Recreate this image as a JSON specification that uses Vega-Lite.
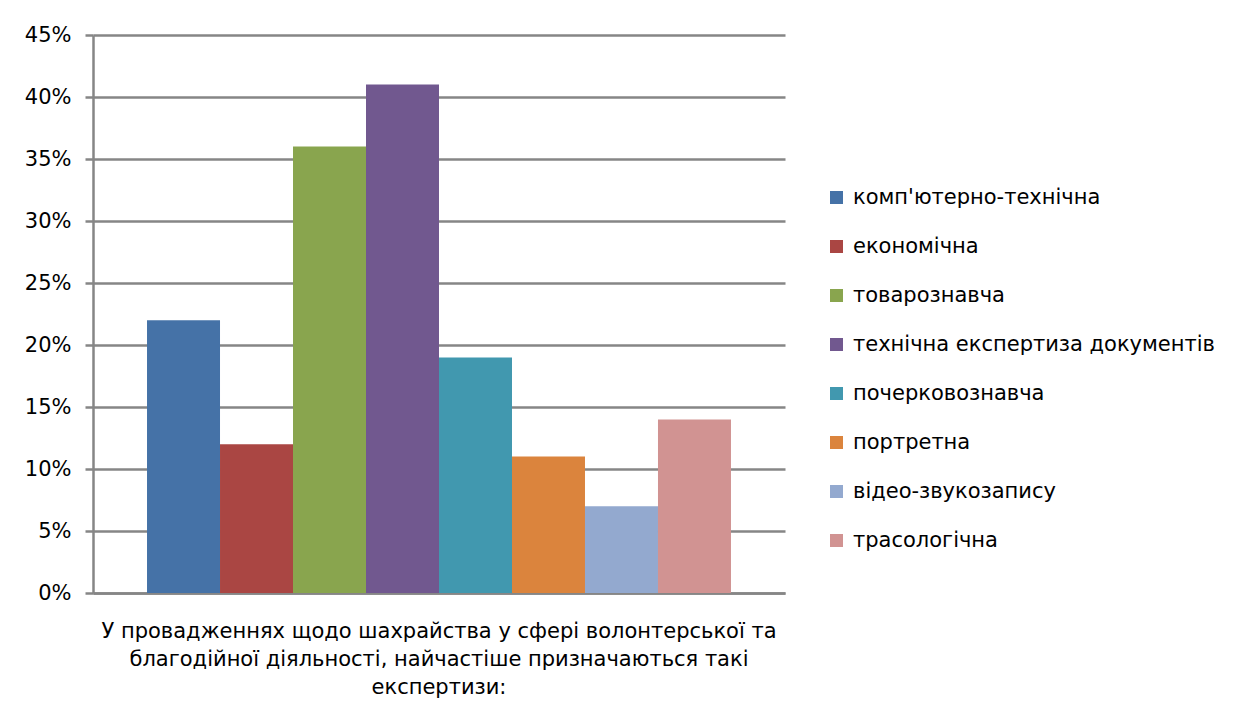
{
  "$schema": "https://vega.github.io/schema/vega-lite/v6.json",
  "autosize": {"type": "none"},
  "width": 692,
  "height": 558,
  "padding": {"left": 93, "top": 35, "right": 456, "bottom": 129},
  "background": "white",
  "data": {
    "values": [
      {"group": "g", "type": "комп'ютерно-технічна", "value": 0.22},
      {"group": "g", "type": "економічна", "value": 0.12},
      {"group": "g", "type": "товарознавча", "value": 0.36},
      {"group": "g", "type": "технічна експертиза документів", "value": 0.41},
      {"group": "g", "type": "почерковознавча", "value": 0.19},
      {"group": "g", "type": "портретна", "value": 0.11},
      {"group": "g", "type": "відео-звукозапису", "value": 0.07},
      {"group": "g", "type": "трасологічна", "value": 0.14}
    ]
  },
  "mark": {"type": "bar"},
  "encoding": {
    "x": {
      "field": "group",
      "type": "nominal",
      "scale": {"paddingInner": 0, "paddingOuter": 0},
      "axis": {
        "title": null,
        "ticks": false,
        "domain": true,
        "domainColor": "#868686",
        "domainWidth": 2.5,
        "labelAngle": 0,
        "labelFont": "DejaVu Sans",
        "labelFontSize": 21,
        "labelColor": "#000000",
        "labelBaseline": "top",
        "labelPadding": 27,
        "labelLineHeight": 28,
        "labelLimit": 0,
        "labelExpr": "['У провадженнях щодо шахрайства у сфері волонтерської та', 'благодійної діяльності, найчастіше призначаються такі', 'експертизи:']"
      }
    },
    "xOffset": {
      "field": "type",
      "type": "nominal",
      "sort": null,
      "scale": {"paddingInner": 0, "paddingOuter": 0.74}
    },
    "y": {
      "field": "value",
      "type": "quantitative",
      "scale": {"domain": [0, 0.45], "nice": false},
      "axis": {
        "title": null,
        "values": [0, 0.05, 0.1, 0.15, 0.2, 0.25, 0.3, 0.35, 0.4, 0.45],
        "format": ".0%",
        "grid": true,
        "gridColor": "#868686",
        "gridWidth": 2.5,
        "domainColor": "#868686",
        "domainWidth": 2.5,
        "tickColor": "#868686",
        "tickWidth": 2.5,
        "tickSize": 8,
        "labelPadding": 14,
        "labelFont": "DejaVu Sans",
        "labelFontSize": 21,
        "labelColor": "#000000"
      }
    },
    "color": {
      "field": "type",
      "type": "nominal",
      "sort": null,
      "scale": {
        "domain": ["комп'ютерно-технічна", "економічна", "товарознавча", "технічна експертиза документів", "почерковознавча", "портретна", "відео-звукозапису", "трасологічна"],
        "range": ["#4572A7", "#AA4643", "#89A54E", "#71588F", "#4198AF", "#DB843D", "#93A9CF", "#D19392"]
      },
      "legend": {
        "title": null,
        "orient": "none",
        "legendX": 733,
        "legendY": 152,
        "symbolType": "square",
        "symbolSize": 169,
        "symbolStrokeWidth": 0,
        "labelFont": "DejaVu Sans",
        "labelFontSize": 21,
        "labelColor": "#000000",
        "labelOffset": 6,
        "rowPadding": 27,
        "labelLimit": 0
      }
    }
  },
  "config": {
    "view": {"stroke": null}
  }
}
